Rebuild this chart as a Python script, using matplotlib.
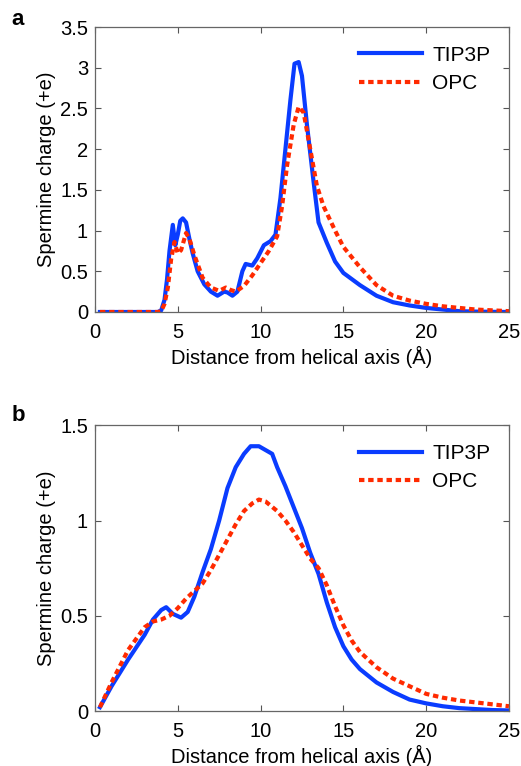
import matplotlib
matplotlib.use("Agg")
from matplotlib import pyplot as plt

plt.rcParams['font.family'] = ['Liberation Sans', 'DejaVu Sans']

# panel a
xa_tip = [0.3, 1, 2, 3, 3.8, 4.0, 4.2, 4.35, 4.5, 4.7, 4.85, 5.0, 5.15, 5.3, 5.5, 5.7, 5.9, 6.2, 6.6, 7.0,
          7.4, 7.8, 8.0, 8.3, 8.6, 8.9, 9.1, 9.5, 9.8, 10.2, 10.6, 10.9, 11.2, 11.5, 11.8, 12.05, 12.3,
          12.5, 12.8, 13.2, 13.5, 14.0, 14.5, 15, 16, 17, 18, 19, 20, 21, 22, 23, 24, 25]
ya_tip = [0, 0, 0, 0, 0, 0.02, 0.15, 0.4, 0.75, 1.07, 0.82, 0.95, 1.12, 1.15, 1.1, 0.9, 0.72, 0.5, 0.34, 0.25,
          0.2, 0.25, 0.24, 0.2, 0.25, 0.5, 0.59, 0.57, 0.66, 0.82, 0.87, 0.95, 1.4, 2.0, 2.6, 3.05, 3.07,
          2.9, 2.3, 1.6, 1.1, 0.85, 0.62, 0.48, 0.33, 0.2, 0.12, 0.08, 0.05, 0.03, 0.01, 0.005, 0.002, 0]

xa_opc = [0.3, 1, 2, 3, 3.8, 4.0, 4.2, 4.4, 4.6, 4.8, 5.0, 5.2, 5.5, 5.7, 6.0, 6.5, 7.0, 7.5, 7.9, 8.2,
          8.5, 9.0, 9.5, 10.0, 10.5, 11.0, 11.3, 11.6, 12.0, 12.3, 12.6, 13.0, 13.4, 13.8, 14.5, 15,
          16, 17, 18, 19, 20, 21, 22, 23, 24, 25]
ya_opc = [0, 0, 0, 0, 0, 0.01, 0.1, 0.3, 0.65, 0.86, 0.72, 0.76, 0.97, 0.9, 0.7, 0.42, 0.3, 0.26, 0.3, 0.27,
          0.25, 0.32, 0.45, 0.6, 0.75, 0.93, 1.3, 1.8, 2.3, 2.52, 2.45, 2.0, 1.55, 1.3, 1.0, 0.8,
          0.55, 0.33, 0.2, 0.14, 0.1, 0.07, 0.05, 0.03, 0.02, 0.01]

# panel b
xb_tip = [0.3, 1, 2, 3, 3.5, 4, 4.3, 4.7, 5.2, 5.6, 6, 6.5, 7, 7.5, 8, 8.5, 9, 9.4, 9.9, 10.3, 10.7,
          11, 11.5, 12, 12.5, 13, 13.5, 14, 14.5, 15, 15.5, 16, 17, 18, 19, 20, 21, 22, 23, 24, 25]
yb_tip = [0.02, 0.13, 0.27, 0.4, 0.48, 0.53, 0.545, 0.51, 0.49, 0.52, 0.6, 0.73, 0.85, 1.0, 1.17, 1.28,
          1.35, 1.39, 1.39, 1.37, 1.35, 1.28, 1.18, 1.07, 0.96, 0.83, 0.72, 0.57, 0.44, 0.34, 0.27,
          0.22, 0.15, 0.1, 0.06, 0.04, 0.025, 0.015, 0.01, 0.005, 0.003]

xb_opc = [0.3, 1, 2, 3, 3.5, 4, 4.5, 5, 5.5, 6, 6.5, 7, 7.5, 8, 8.5, 9, 9.5, 9.9, 10.3, 11, 11.5, 12,
          12.5, 13, 13.5, 14, 14.5, 15, 15.5, 16, 17, 18, 19, 20, 21, 22, 23, 24, 25]
yb_opc = [0.02, 0.15, 0.32, 0.44, 0.47, 0.48, 0.5, 0.54, 0.59, 0.63, 0.67, 0.74, 0.82, 0.9, 0.98, 1.05,
          1.09, 1.11, 1.1, 1.05, 1.0, 0.94, 0.87, 0.8, 0.75, 0.66, 0.55, 0.45, 0.37, 0.31, 0.23, 0.17,
          0.13, 0.09, 0.07, 0.055, 0.045, 0.035, 0.025]

BLUE = '#0a3cff'
RED = '#ff2a00'

fig = plt.figure(figsize=(5.21, 7.66), dpi=100)
ax1 = fig.add_axes([0.1823, 0.5927, 0.7946, 0.372])
ax2 = fig.add_axes([0.1823, 0.0718, 0.7946, 0.373])


def style(ax, ymax, yticks, ylabels):
    ax.set_xlim(0, 25)
    ax.set_ylim(0, ymax)
    ax.set_xticks([0, 5, 10, 15, 20, 25])
    ax.set_yticks(yticks)
    ax.set_yticklabels(ylabels)
    ax.tick_params(direction='in', top=True, right=True, length=4, width=0.8,
                   color='#555555', labelsize=14.5)
    ax.tick_params(axis='x', pad=8)
    ax.tick_params(axis='y', pad=5)
    for s in ax.spines.values():
        s.set_color('#666666')
        s.set_linewidth(0.9)
    ax.set_xlabel('Distance from helical axis (Å)', fontsize=14.5, labelpad=3)
    ax.set_ylabel('Spermine charge (+e)', fontsize=14.5, labelpad=3)
    ax.legend(loc='upper right', frameon=False, fontsize=15, handlelength=3.0,
              handletextpad=0.5, borderaxespad=0.5, labelspacing=0.45)


for ax, xt, yt, xo, yo in [(ax1, xa_tip, ya_tip, xa_opc, ya_opc),
                           (ax2, xb_tip, yb_tip, xb_opc, yb_opc)]:
    ax.plot(xt, yt, color=BLUE, lw=3, label='TIP3P', solid_joinstyle='round')
    ax.plot(xo, yo, color=RED, lw=3, dashes=(1.3, 0.9), label='OPC')

style(ax1, 3.5, [0, 0.5, 1, 1.5, 2, 2.5, 3, 3.5], ['0', '0.5', '1', '1.5', '2', '2.5', '3', '3.5'])
style(ax2, 1.5, [0, 0.5, 1, 1.5], ['0', '0.5', '1', '1.5'])

fig.text(0.022, 0.974, 'a', fontsize=16, fontweight='bold', va='center')
fig.text(0.022, 0.458, 'b', fontsize=16, fontweight='bold', va='center')

fig.savefig('out.png', dpi=100)
